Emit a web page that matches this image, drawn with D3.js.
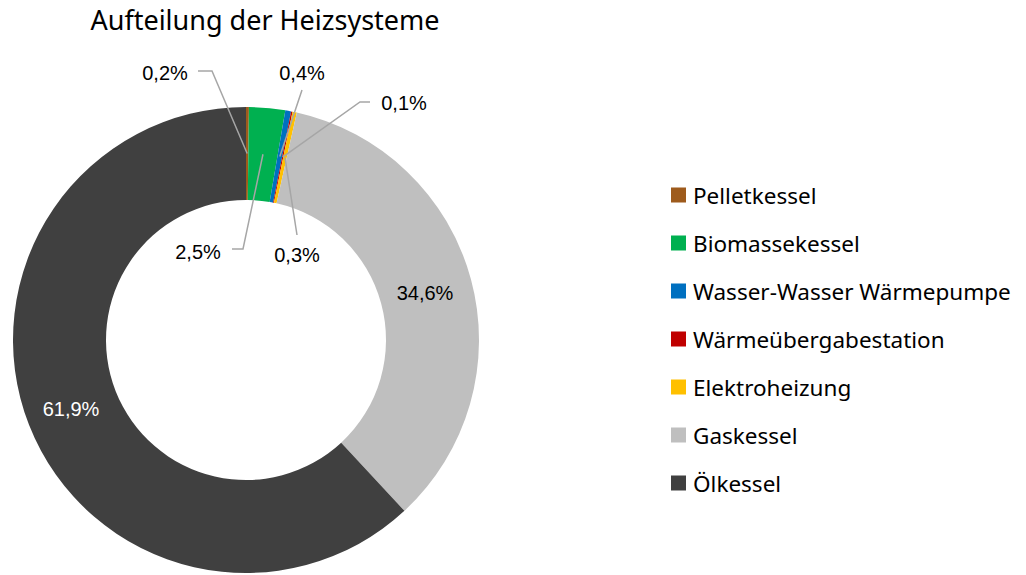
<!DOCTYPE html>
<html><head><meta charset="utf-8">
<script src="https://cdn.jsdelivr.net/npm/d3@7"></script>
<style>body{margin:0;background:#fff}svg{display:block}</style>
</head><body>
<script>
const categories = ["Pelletkessel","Biomassekessel","Wasser-Wasser Wärmepumpe","Wärmeübergabestation","Elektroheizung","Gaskessel","Ölkessel"];
const values = [0.2, 2.5, 0.4, 0.1, 0.3, 34.6, 61.9];
const colors = ["#9E5B1C","#00B050","#0070C0","#C00000","#FFC000","#BFBFBF","#404040"];
const title = "Aufteilung der Heizsysteme";

const W = 1026, H = 575;
const svg = d3.select("body").append("svg").attr("width", W).attr("height", H);
const cx = 246, cy = 340, rOut = 233, rIn = 140;

const pie = d3.pie().sort(null).value(d => d)(values);
const arc = d3.arc().innerRadius(rIn).outerRadius(rOut);
const midArc = d3.arc().innerRadius((rIn + rOut) / 2).outerRadius((rIn + rOut) / 2);
const g = svg.append("g").attr("transform", `translate(${cx},${cy})`);
g.selectAll("path.slice").data(pie).join("path").attr("class","slice")
  .attr("d", arc).attr("fill", (d,i) => colors[i]);

const fmt = v => d3.format(".1f")(v).replace(".", ",") + "%";
const labelFont = "'Liberation Sans', Arial, sans-serif";

// label placement (offsets relative to center) for small slices with leader lines
const callouts = {
  0: {tx: -81, ty: -267, elbow: [-34, -269], start: [-48, -269]},
  1: {tx: -48, ty: -88, elbow: [-3, -91], start: [-14, -91]},
  2: {tx: 56, ty: -267, elbow: null, start: [56, -250]},
  3: {tx: 158, ty: -237, elbow: [114, -238], start: [124, -238]},
  4: {tx: 51, ty: -85, elbow: null, start: [51, -105]}
};
pie.forEach((d, i) => {
  const c = callouts[i];
  if (c) {
    const [mx, my] = midArc.centroid(d);
    const pts = [c.start];
    if (c.elbow) pts.push(c.elbow);
    pts.push([mx, my]);
    g.append("path").attr("d", d3.line()(pts)).attr("fill","none")
      .attr("stroke","#A6A6A6").attr("stroke-width",1.5);
    g.append("text").attr("x", c.tx).attr("y", c.ty).attr("text-anchor","middle")
      .attr("dominant-baseline","central").attr("font-family", labelFont)
      .attr("font-size", 20).attr("fill","#000").text(fmt(values[i]));
  }
});
// inside labels
const inside = {5: [179, -47, "#000"], 6: [-175, 69, "#fff"]};
Object.entries(inside).forEach(([i, p]) => {
  g.append("text").attr("x", p[0]).attr("y", p[1]).attr("text-anchor","middle")
    .attr("dominant-baseline","central").attr("font-family", labelFont)
    .attr("font-size", 20).attr("fill", p[2]).text(fmt(values[+i]));
});

svg.append("text").attr("x", 265).attr("y", 30).attr("text-anchor","middle")
  .attr("font-family","'Noto Sans', sans-serif").attr("font-size", 27).attr("fill","#000")
  .text(title);

const leg = svg.append("g");
const yLeg = d3.scalePoint().domain(categories).range([195, 483]);
categories.forEach((c, i) => {
  leg.append("rect").attr("x", 671).attr("y", yLeg(c) - 7.5).attr("width", 15).attr("height", 15)
    .attr("fill", colors[i]);
  leg.append("text").attr("x", 693).attr("y", yLeg(c)).attr("dominant-baseline","central")
    .attr("font-family","'Noto Sans', sans-serif").attr("font-size", 22.5).attr("fill","#000").text(c);
});
</script>
</body></html>
